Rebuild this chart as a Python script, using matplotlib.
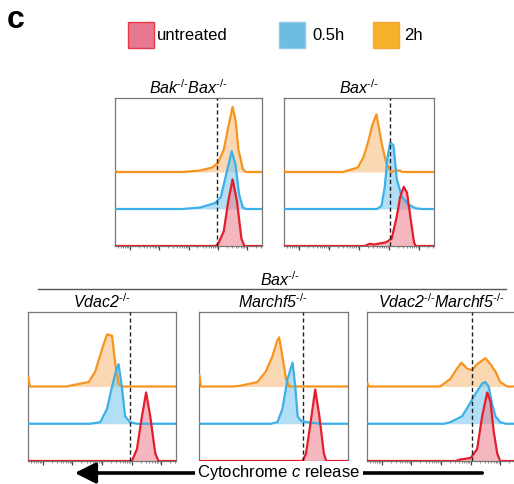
import numpy as np
import matplotlib
matplotlib.use('Agg')
import matplotlib.pyplot as plt
from matplotlib.patches import Rectangle, FancyArrowPatch
from matplotlib.lines import Line2D
from matplotlib.ticker import LogLocator, NullFormatter

plt.rcParams['font.family'] = ['Liberation Sans', 'DejaVu Sans']
plt.rcParams['mathtext.fontset'] = 'custom'
plt.rcParams['mathtext.rm'] = 'Liberation Sans'
plt.rcParams['mathtext.it'] = 'Liberation Sans:italic'

W, H = 514, 484

# Panel titles (italic text, superscript genotype) and gate positions (log10 fluorescence)
ko = r'$^{\mathit{‐/‐}}$'
titles = ['Bak' + ko + 'Bax' + ko, 'Bax' + ko, 'Vdac2' + ko, 'Marchf5' + ko,
          'Vdac2' + ko + 'Marchf5' + ko]
group_title = 'Bax' + ko
gates = [3.97, 4.03, 3.96, 3.99, 4.06]
legend_labels = ['untreated', '0.5h', '2h']

# Histogram traces: x in log10 units, y in fraction of panel height
# Bak-/-Bax-/-
p1_red_x = [0.5, 3.9, 4.0, 4.2, 4.35, 4.5, 4.65, 4.8, 4.9, 5.5]
p1_red_y = [0.0, 0.0, 0.01, 0.10, 0.30, 0.45, 0.30, 0.05, 0.0, 0.0]
p1_blue_x = [0.5, 2.8, 3.4, 3.9, 4.1, 4.3, 4.47, 4.6, 4.72, 4.85, 4.95, 5.5]
p1_blue_y = [0.25, 0.25, 0.26, 0.29, 0.33, 0.50, 0.64, 0.55, 0.35, 0.26, 0.25, 0.25]
p1_orng_x = [0.5, 0.52, 0.56, 2.8, 3.4, 3.8, 4.0, 4.2, 4.35, 4.5, 4.6, 4.7, 4.85, 4.95, 5.5]
p1_orng_y = [0.51, 0.51, 0.50, 0.50, 0.51, 0.53, 0.56, 0.65, 0.80, 0.94, 0.85, 0.65, 0.52, 0.50, 0.50]
# Bax-/-
p2_red_x = [0.5, 3.2, 3.35, 3.5, 3.9, 4.09, 4.26, 4.37, 4.49, 4.6, 4.71, 4.83, 4.88, 5.5]
p2_red_y = [0.0, 0.0, 0.015, 0.01, 0.025, 0.05, 0.20, 0.33, 0.40, 0.36, 0.20, 0.03, 0.0, 0.0]
p2_blue_x = [0.5, 3.6, 3.75, 3.86, 3.95, 4.04, 4.15, 4.26, 4.43, 4.66, 4.88, 5.1, 5.5]
p2_blue_y = [0.25, 0.25, 0.27, 0.40, 0.60, 0.70, 0.68, 0.45, 0.33, 0.28, 0.255, 0.25, 0.25]
p2_orng_x = [0.5, 0.52, 0.56, 2.46, 2.96, 3.15, 3.30, 3.45, 3.58, 3.75, 3.92, 4.09, 4.2, 4.35, 4.45, 5.5]
p2_orng_y = [0.51, 0.51, 0.50, 0.50, 0.53, 0.60, 0.70, 0.82, 0.89, 0.70, 0.55, 0.50, 0.51, 0.51, 0.50, 0.50]
# Vdac2-/-
p3_red_x = [0.5, 4.01, 4.18, 4.35, 4.49, 4.63, 4.8, 4.91, 5.5]
p3_red_y = [0.0, 0.0, 0.08, 0.30, 0.46, 0.30, 0.05, 0.0, 0.0]
p3_blue_x = [0.5, 2.6, 2.94, 3.17, 3.34, 3.49, 3.56, 3.67, 3.78, 3.95, 4.18, 5.5]
p3_blue_y = [0.25, 0.25, 0.26, 0.35, 0.50, 0.62, 0.65, 0.50, 0.30, 0.26, 0.25, 0.25]
p3_orng_x = [0.5, 0.52, 0.56, 1.8, 2.04, 2.55, 2.77, 3.0, 3.17, 3.34, 3.45, 3.56, 3.67, 5.5]
p3_orng_y = [0.565, 0.56, 0.50, 0.50, 0.51, 0.53, 0.60, 0.75, 0.85, 0.84, 0.65, 0.52, 0.50, 0.50]
# Marchf5-/-
p4_red_x = [0.5, 3.98, 4.09, 4.24, 4.40, 4.54, 4.69, 4.77, 5.5]
p4_red_y = [0.0, 0.0, 0.05, 0.25, 0.48, 0.30, 0.05, 0.0, 0.0]
p4_blue_x = [0.5, 2.9, 3.13, 3.30, 3.47, 3.64, 3.73, 3.81, 3.92, 4.15, 4.6, 5.5]
p4_blue_y = [0.25, 0.25, 0.26, 0.35, 0.55, 0.66, 0.50, 0.30, 0.27, 0.26, 0.25, 0.25]
p4_orng_x = [0.5, 0.52, 0.56, 1.6, 1.89, 2.46, 2.74, 2.96, 3.11, 3.19, 3.30, 3.42, 3.53, 5.5]
p4_orng_y = [0.58, 0.57, 0.50, 0.50, 0.505, 0.53, 0.60, 0.70, 0.80, 0.83, 0.70, 0.55, 0.50, 0.50]
# Vdac2-/-Marchf5-/-
p5_red_x = [0.5, 3.5, 3.65, 4.0, 4.22, 4.39, 4.56, 4.67, 4.78, 4.9, 5.0, 5.5]
p5_red_y = [0.0, 0.0, 0.01, 0.02, 0.08, 0.30, 0.46, 0.40, 0.20, 0.05, 0.0, 0.0]
p5_blue_x = [0.5, 3.1, 3.31, 3.71, 3.93, 4.16, 4.39, 4.5, 4.61, 4.73, 4.84, 5.0, 5.2, 5.5]
p5_blue_y = [0.25, 0.25, 0.26, 0.30, 0.37, 0.45, 0.52, 0.53, 0.50, 0.38, 0.30, 0.26, 0.25, 0.25]
p5_orng_x = [0.5, 0.52, 0.56, 2.8, 2.97, 3.31, 3.54, 3.69, 3.88, 4.05, 4.22, 4.5, 4.67, 4.84, 5.0, 5.24, 5.5]
p5_orng_y = [0.52, 0.52, 0.50, 0.50, 0.50, 0.55, 0.62, 0.66, 0.62, 0.61, 0.65, 0.69, 0.65, 0.60, 0.53, 0.50, 0.50]

panel_data = [
    [(p1_orng_x, p1_orng_y), (p1_blue_x, p1_blue_y), (p1_red_x, p1_red_y)],
    [(p2_orng_x, p2_orng_y), (p2_blue_x, p2_blue_y), (p2_red_x, p2_red_y)],
    [(p3_orng_x, p3_orng_y), (p3_blue_x, p3_blue_y), (p3_red_x, p3_red_y)],
    [(p4_orng_x, p4_orng_y), (p4_blue_x, p4_blue_y), (p4_red_x, p4_red_y)],
    [(p5_orng_x, p5_orng_y), (p5_blue_x, p5_blue_y), (p5_red_x, p5_red_y)],
]
baselines = [0.5, 0.25, 0.0]
line_colors = ['#f7941d', '#3cb0e8', '#e41e2b']
fill_colors = ['#f9b877', '#74c6ee', '#eb7d8c']

# panel boxes in pixels: left, top, right, bottom
boxes = [(115, 98, 262, 246), (284, 98, 434, 246),
         (28, 312, 176, 461), (199, 312, 348, 461), (367, 312, 515, 461)]

fig = plt.figure(figsize=(W / 100, H / 100), dpi=100)

for i, (l, t, r, b) in enumerate(boxes):
    ax = fig.add_axes([l / W, 1 - b / H, (r - l) / W, (b - t) / H])
    for (xs, ys), base, lc, fc in zip(panel_data[i], baselines, line_colors, fill_colors):
        xv = np.power(10.0, xs)
        ax.fill_between(xv, base, ys, color=fc, alpha=0.55, lw=0, zorder=2)
        ax.plot(xv, ys, color=lc, lw=1.6, zorder=3, solid_joinstyle='round')
    ax.axvline(10 ** gates[i], color='#222222', ls=(0, (3, 2)), lw=1.0, zorder=4)
    ax.set_xscale('log')
    ax.set_xlim(10 ** 0.5, 10 ** 5.5)
    ax.set_ylim(0, 1)
    ax.set_yticks([])
    ax.xaxis.set_major_locator(LogLocator(base=10, numticks=20))
    ax.xaxis.set_minor_locator(LogLocator(base=10, subs=np.arange(2, 10), numticks=20))
    ax.xaxis.set_major_formatter(NullFormatter())
    ax.xaxis.set_minor_formatter(NullFormatter())
    ax.tick_params(which='major', direction='out', length=3, width=0.9, color='#444444')
    ax.tick_params(which='minor', direction='out', length=1.6, width=0.6, color='#777777')
    for s in ax.spines.values():
        s.set_color('#777777')
        s.set_linewidth(0.9)
    ax.set_title(titles[i], fontsize=11.5, style='italic', pad=3)

# panel letter
fig.text(7 / W, 1 - 20 / H, 'c', fontsize=23, fontweight='bold', va='center', ha='left')

# legend
leg_box_x = [128, 279, 373]
leg_text_x = [157, 312, 404]
for bx, tx, lab, lc, fc in zip(leg_box_x, leg_text_x, legend_labels,
                               ['#e8384a', '#8fcbea', '#f7a63a'],
                               ['#e6788f', '#6dbde3', '#f6b22b']):
    fig.patches.append(Rectangle((bx / W, 1 - 48 / H), 26 / W, 26 / H, transform=fig.transFigure,
                                 facecolor=fc, edgecolor=lc, lw=1.0))
    fig.text(tx / W, 1 - 36 / H, lab, fontsize=12, va='center', ha='left')

# group header for bottom row
fig.add_artist(Line2D([38 / W, 506 / W], [1 - 289 / H, 1 - 289 / H], color='#555555', lw=1.0,
                      transform=fig.transFigure))
fig.text(280 / W, 1 - 280 / H, group_title, fontsize=11.5, style='italic', ha='center', va='center')

# cytochrome c release arrow
fig.add_artist(FancyArrowPatch((485 / W, 1 - 473 / H), (72 / W, 1 - 473 / H),
                               transform=fig.transFigure, arrowstyle='-|>,head_length=0.9,head_width=0.45',
                               mutation_scale=14, lw=2.6, color='black'))
fig.text(279 / W, 1 - 472 / H, 'Cytochrome $c$ release', fontsize=12, ha='center', va='center',
         bbox=dict(facecolor='white', edgecolor='none', pad=1.5))

fig.savefig('out.png', dpi=100)
